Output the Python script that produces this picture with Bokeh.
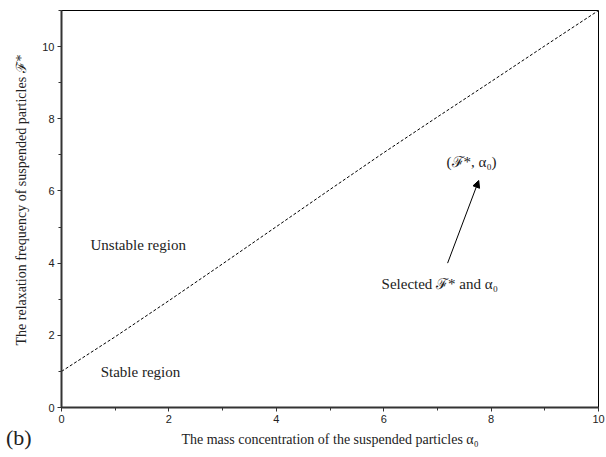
from bokeh.plotting import figure
from bokeh.models import Range1d, SingleIntervalTicker, Label, Arrow, NormalHead, Title, Div
from bokeh.layouts import column
from bokeh.embed import file_html
from bokeh.resources import INLINE

# boundary curve (alpha0 vs F*)
alpha0 = [0, 1, 2, 3, 4, 5, 6, 7, 8, 9, 10]
fstar = [1.0, 1.96, 2.96, 3.98, 5.01, 6.04, 7.06, 8.05, 9.03, 10.02, 11.0]

x_ticks_interval = 2
y_ticks_interval = 2

p = figure(width=606, height=457, output_backend="svg", toolbar_location=None,
           x_range=Range1d(0, 10), y_range=Range1d(0, 11),
           min_border_left=61, min_border_right=8, min_border_top=10, min_border_bottom=50)
p.background_fill_color = "white"
p.border_fill_color = "white"
p.outline_line_color = "black"
p.outline_line_width = 1
p.xgrid.visible = False
p.ygrid.visible = False

serif = "Liberation Serif"

for ax, iv in ((p.xaxis[0], x_ticks_interval), (p.yaxis[0], y_ticks_interval)):
    ax.ticker = SingleIntervalTicker(interval=iv, num_minor_ticks=2)
    ax.axis_line_width = 2
    ax.axis_line_color = "#333333"
    ax.major_tick_line_color = "#333333"
    ax.minor_tick_line_color = "#333333"
    ax.major_tick_out = 4
    ax.major_tick_in = 0
    ax.minor_tick_out = 3
    ax.minor_tick_in = 0
    ax.major_label_text_font = "Liberation Sans"
    ax.major_label_text_font_size = "11px"
    ax.major_label_text_color = "#222222"
    ax.axis_label_text_font = serif
    ax.axis_label_text_font_style = "normal"
    ax.axis_label_text_color = "#222222"
p.xaxis.major_label_standoff = 3
p.yaxis.major_label_standoff = 3

p.xaxis.axis_label = "The mass concentration of the suspended particles \u03b1\u2080"
p.xaxis.axis_label_text_font_size = "14px"
p.xaxis.axis_label_standoff = 6

p.add_layout(Title(text="The relaxation frequency of suspended particles \u2131*",
                   align="left", offset=62, standoff=21, text_font=serif,
                   text_font_size="14px", text_font_style="normal",
                   text_color="#222222"), "left")

p.line(alpha0, fstar, line_color="black", line_width=1, line_dash="3 2")


def lab(x, y, text, size="15px", **kw):
    p.add_layout(Label(x=x, y=y, text=text, text_font=serif, text_font_size=size,
                       text_color="#222222", **kw))

lab(0.54, 4.49, "Unstable region", text_baseline="middle")
lab(0.73, 0.97, "Stable region", text_baseline="middle")
lab(5.96, 3.43, "Selected \u2131* and \u03b1\u2080", text_baseline="middle")
lab(7.17, 6.79, "(\u2131*, \u03b1\u2080)", text_baseline="middle")

p.add_layout(Arrow(end=NormalHead(size=7, fill_color="black", line_color="black"),
                   x_start=7.19, y_start=4.0, x_end=7.77, y_end=6.29,
                   line_color="black", line_width=1))

# panel tag
tag = Div(text="(b)", width=40, height=26, margin=(-32, 0, 0, 6),
          styles={"font-family": "Liberation Serif", "font-size": "22px",
                  "line-height": "26px", "color": "#222222"})

layout = column(p, tag, spacing=0)
open("out.html", "w").write(file_html(layout, INLINE))
